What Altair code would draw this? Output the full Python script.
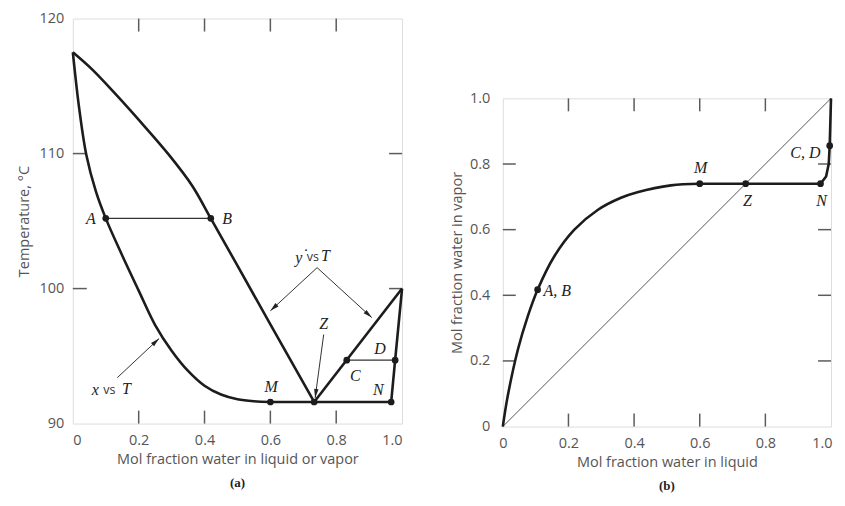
import math
import altair as alt
import pandas as pd

# ---------------- data: panel (a) ----------------
liq_x = [0.0, 0.019, 0.041, 0.070, 0.100, 0.150, 0.200, 0.250, 0.300, 0.350, 0.400, 0.450, 0.500, 0.550, 0.600]
liq_T = [117.5, 113.4, 109.9, 107.2, 105.2, 102.45, 99.85, 97.3, 95.4, 93.9, 92.8, 92.15, 91.8, 91.65, 91.6]
lin_x = [0.600, 0.733, 0.967, 0.979, 1.0]
lin_T = [91.6, 91.6, 91.6, 94.7, 100.0]
vap_x = [0.0, 0.060, 0.130, 0.211, 0.292, 0.363, 0.419, 0.500, 0.600, 0.733]
vap_T = [117.5, 116.2, 114.4, 112.2, 109.9, 107.6, 105.2, 101.7, 97.35, 91.6]
vap2_x = [0.733, 1.0]
vap2_T = [91.6, 100.0]
tie_x1 = [0.100, 0.832]
tie_x2 = [0.419, 0.979]
tie_T = [105.2, 94.7]
pts_a_x = [0.100, 0.419, 0.600, 0.733, 0.967, 0.832, 0.979]
pts_a_T = [105.2, 105.2, 91.6, 91.6, 91.6, 94.7, 94.7]
lab_a_text = ["A", "B", "M", "Z", "C", "D", "N", "y", "T", "x", "T"]
lab_a_x = [0.055, 0.469, 0.602, 0.762, 0.858, 0.933, 0.928, 0.686, 0.767, 0.068, 0.163]
lab_a_T = [105.15, 105.15, 92.7, 97.4, 93.55, 95.5, 92.45, 102.3, 102.4, 92.5, 92.56]
vs_x = [0.729, 0.111]
vs_T = [102.35, 92.5]
arr_x1 = [0.742, 0.742, 0.135, 0.762]
arr_T1 = [101.55, 101.55, 93.4, 96.6]
arr_x2 = [0.600, 0.908, 0.262, 0.736]
arr_T2 = [98.35, 97.85, 96.3, 91.9]

# ---------------- data: panel (b) ----------------
xy_x = [0.0, 0.015, 0.046, 0.076, 0.106, 0.157, 0.218, 0.289, 0.360, 0.410, 0.512, 0.600]
xy_y = [0.0, 0.093, 0.235, 0.336, 0.417, 0.519, 0.600, 0.660, 0.697, 0.714, 0.735, 0.740]
xyl_x = [0.600, 0.968, 0.985, 0.993, 0.996, 1.0]
xyl_y = [0.740, 0.740, 0.762, 0.800, 0.856, 1.0]
pts_b_x = [0.106, 0.600, 0.740, 0.968, 0.996]
pts_b_y = [0.417, 0.740, 0.740, 0.740, 0.856]
lab_b_text = ["A, B", "M", "Z", "N", "C, D"]
lab_b_x = [0.166, 0.603, 0.745, 0.971, 0.922]
lab_b_y = [0.412, 0.787, 0.686, 0.686, 0.835]

tick_x = [0.2, 0.4, 0.6, 0.8]
tick_T = [100, 110]
tick_y = [0.2, 0.4, 0.6, 0.8]
xlabels = [0, 0.2, 0.4, 0.6, 0.8, 1.0]
Tlabels = [90, 100, 110, 120]

# ---------------- style ----------------
W_A, H_A = 330, 406
W_B, H_B = 329, 329
INK = "#1c1c1c"
FRAME = "#5c5c5c"
GREY = "#555555"
SANS = "Open Sans"
SERIF = "Liberation Serif"
TL = 13
ARROW = "M0,0L-0.45,1.8L0.45,1.8Z"
fmt = "datum.value == 0 ? '0' : format(datum.value, '.1f')"

xsa = alt.Scale(domain=[0, 1], nice=False, zero=False)
ysa = alt.Scale(domain=[90, 120], nice=False, zero=False)
xsb = alt.Scale(domain=[0, 1], nice=False, zero=False)
ysb = alt.Scale(domain=[0, 1], nice=False, zero=False)

ax_common = dict(ticks=False, domain=False, grid=False, labelFont=SANS, labelFontSize=14.5,
                 labelColor=GREY, titleFont=SANS, titleFontSize=14.5, titleColor=GREY,
                 titleFontWeight="normal")
axa_x = alt.Axis(values=xlabels, labelExpr=fmt, title="Mol fraction water in liquid or vapor",
                 labelPadding=10, titlePadding=6, **ax_common)
axa_y = alt.Axis(values=Tlabels, format="d", title="Temperature, °C",
                 labelPadding=9, titlePadding=8, **ax_common)
axb_x = alt.Axis(values=xlabels, labelExpr=fmt, title="Mol fraction water in liquid",
                 labelPadding=10, titlePadding=6,
                 labelAlign={"condition": {"test": "datum.value == 1", "value": "right"},
                             "value": "center"},
                 labelOffset={"condition": {"test": "datum.value == 1", "value": 1}, "value": 0},
                 **ax_common)
axb_y = alt.Axis(values=xlabels, labelExpr=fmt, title="Mol fraction water in vapor",
                 labelPadding=13, titlePadding=5, **ax_common)

XA = alt.X("x:Q", scale=xsa, axis=axa_x)
YA = alt.Y("y:Q", scale=ysa, axis=axa_y)
XB = alt.X("x:Q", scale=xsb, axis=axb_x)
YB = alt.Y("y:Q", scale=ysb, axis=axb_y)


def df(**cols):
    return pd.DataFrame(cols)


# ---------------- panel (a) ----------------
liq = alt.Chart(df(x=liq_x, y=liq_T)).mark_line(
    color=INK, strokeWidth=2.6, interpolate="catmull-rom").encode(x=XA, y=YA)
lin = alt.Chart(df(x=lin_x, y=lin_T)).mark_line(
    color=INK, strokeWidth=2.6).encode(x=XA, y=YA)
vap = alt.Chart(df(x=vap_x, y=vap_T)).mark_line(
    color=INK, strokeWidth=2.6, interpolate="catmull-rom").encode(x=XA, y=YA)
vap2 = alt.Chart(df(x=vap2_x, y=vap2_T)).mark_line(
    color=INK, strokeWidth=2.6).encode(x=XA, y=YA)
ties = alt.Chart(df(x=tie_x1, x2=tie_x2, y=tie_T)).mark_rule(
    color="#333333", strokeWidth=1.1).encode(x=XA, x2="x2:Q", y=YA)
pts_a = alt.Chart(df(x=pts_a_x, y=pts_a_T)).mark_circle(
    color=INK, size=45, opacity=1).encode(x=XA, y=YA)
lab_a = alt.Chart(df(x=lab_a_x, y=lab_a_T, t=lab_a_text)).mark_text(
    font=SERIF, fontStyle="italic", fontSize=16, color="#222222", baseline="middle",
    align="center").encode(x=XA, y=YA, text="t:N")
vs_a = alt.Chart(df(x=vs_x, y=vs_T, t=["vs", "vs"])).mark_text(
    font=SANS, fontSize=12.5, color="#333333", baseline="middle", align="center").encode(
    x=XA, y=YA, text="t:N")
star = alt.Chart(df(x=[0.708], y=[102.8], t=["•"])).mark_text(
    font=SANS, fontSize=8, color="#222222", baseline="middle", align="center").encode(
    x=XA, y=YA, text="t:N")

ang = []
for x1, t1, x2, t2 in zip(arr_x1, arr_T1, arr_x2, arr_T2):
    dx = (x2 - x1) * W_A
    dy = -(t2 - t1) * H_A / 30.0
    ang.append(math.degrees(math.atan2(dx, -dy)) % 360)
arr_df = df(x=arr_x1, y=arr_T1, x2=arr_x2, y2=arr_T2, a=ang)
shafts = alt.Chart(arr_df).mark_rule(color="#333333", strokeWidth=1.0).encode(
    x=XA, y=YA, x2="x2:Q", y2="y2:Q")
heads = alt.Chart(arr_df).mark_point(shape=ARROW, filled=True, size=100, color="#222222",
                                     opacity=1).encode(
    x=alt.X("x2:Q", scale=xsa, axis=axa_x), y=alt.Y("y2:Q", scale=ysa, axis=axa_y),
    angle=alt.Angle("a:Q", scale=None))

tk = dict(color=FRAME, strokeWidth=1.5)
tb = alt.Chart(df(x=tick_x)).mark_rule(**tk).encode(x=XA, y=alt.value(H_A), y2=alt.value(H_A - TL))
tt = alt.Chart(df(x=tick_x)).mark_rule(**tk).encode(x=XA, y=alt.value(0), y2=alt.value(TL))
tl = alt.Chart(df(y=tick_T)).mark_rule(**tk).encode(y=YA, x=alt.value(0), x2=alt.value(TL + 1))
tr = alt.Chart(df(y=tick_T)).mark_rule(**tk).encode(y=YA, x=alt.value(W_A), x2=alt.value(W_A - TL))

panel_a = alt.layer(tb, tt, tl, tr, ties, shafts, heads, liq, lin, vap, vap2, pts_a,
                    lab_a, vs_a, star).properties(
    width=W_A, height=H_A,
    title=alt.TitleParams("(a)", orient="bottom", font=SERIF, fontWeight="bold", fontSize=13,
                          color="#222222", offset=11, frame="group", anchor="middle"))

# ---------------- panel (b) ----------------
diag = alt.Chart(df(x=[0.0, 1.0], y=[0.0, 1.0])).mark_line(
    color="#444444", strokeWidth=0.9).encode(x=XB, y=YB)
xy = alt.Chart(df(x=xy_x, y=xy_y)).mark_line(
    color=INK, strokeWidth=2.6, interpolate="catmull-rom").encode(x=XB, y=YB)
xyl = alt.Chart(df(x=xyl_x, y=xyl_y)).mark_line(
    color=INK, strokeWidth=2.6).encode(x=XB, y=YB)
pts_b = alt.Chart(df(x=pts_b_x, y=pts_b_y)).mark_circle(
    color=INK, size=45, opacity=1).encode(x=XB, y=YB)
lab_b = alt.Chart(df(x=lab_b_x, y=lab_b_y, t=lab_b_text)).mark_text(
    font=SERIF, fontStyle="italic", fontSize=16, color="#222222", baseline="middle",
    align="center").encode(x=XB, y=YB, text="t:N")
bb = alt.Chart(df(x=tick_y)).mark_rule(**tk).encode(x=XB, y=alt.value(H_B), y2=alt.value(H_B - TL))
bt = alt.Chart(df(x=tick_y)).mark_rule(**tk).encode(x=XB, y=alt.value(0), y2=alt.value(TL))
bl = alt.Chart(df(y=tick_y)).mark_rule(**tk).encode(y=YB, x=alt.value(0), x2=alt.value(TL))
br = alt.Chart(df(y=tick_y)).mark_rule(**tk).encode(y=YB, x=alt.value(W_B), x2=alt.value(W_B - TL))

panel_b = alt.layer(bb, bt, bl, br, diag, xy, xyl, pts_b, lab_b).properties(
    width=W_B, height=H_B,
    title=alt.TitleParams("(b)", orient="bottom", font=SERIF, fontWeight="bold", fontSize=13,
                          color="#222222", offset=11, frame="group", anchor="middle"))

spacer = alt.Chart(df(x=[0])).mark_point(opacity=0).encode(
    x=alt.value(0), y=alt.value(0)).properties(
    width=W_B, height=71, view=alt.ViewBackground(strokeWidth=0, strokeOpacity=0))

right = alt.vconcat(spacer, panel_b, spacing=0)

chart = alt.hconcat(panel_a, right, spacing=41).properties(
    padding={"left": 7, "top": 1, "right": 0, "bottom": 0}
).configure_view(stroke=FRAME, strokeWidth=1.5).configure(background="white")

chart.save("out.html", embed_options={"renderer": "svg", "actions": False})
